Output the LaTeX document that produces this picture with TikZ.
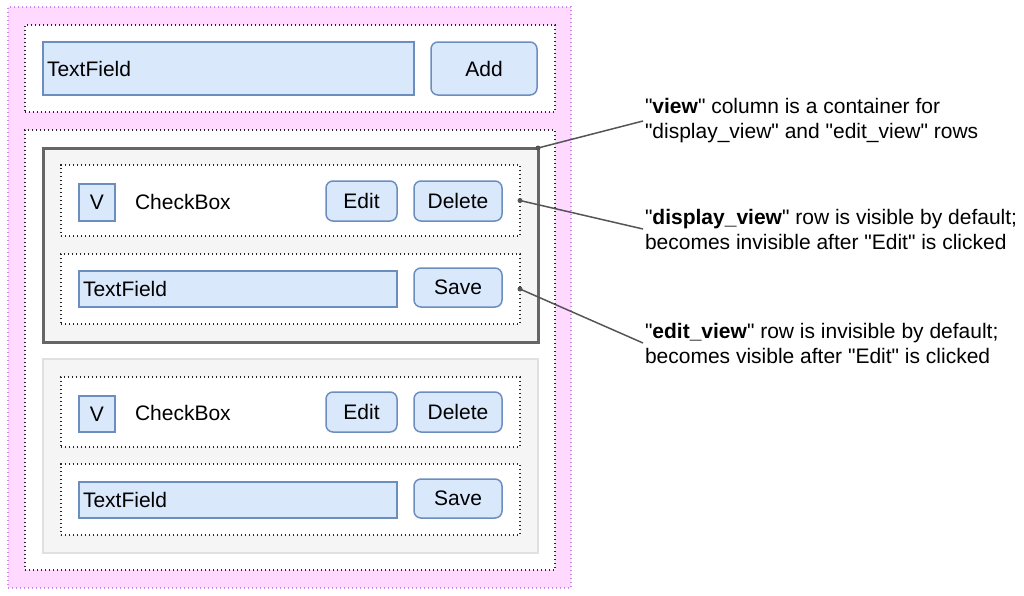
\documentclass[tikz,border=0pt]{standalone}
\usepackage{fontspec}
\setmainfont{Liberation Sans}[Ligatures=TeXOff]
\definecolor{pinkfill}{HTML}{FFD9FF}
\definecolor{pinkline}{HTML}{CC88EE}
\definecolor{bluefill}{HTML}{DAE8FC}
\definecolor{blueline}{HTML}{6C8EBF}
\definecolor{greyfill}{HTML}{F5F5F5}
\definecolor{greyline}{HTML}{666666}
\definecolor{lightgrey}{HTML}{E0E0E0}
\definecolor{connc}{HTML}{555555}
\newcommand\uibox[7]{\node[#2, anchor=north west, minimum width={(#5-#3)*1pt}, minimum height={(#6-#4)*1pt}] (#1) at (#3,#4) {#7};}
\tikzset{
  base/.style={inner sep=0pt, outer sep=0pt, font=\fontsize{21}{25}\selectfont},
  outerpink/.style={base, fill=pinkfill, draw=pinkline, line width=1.1pt, dash pattern=on 1.1pt off 2.9pt},
  dotbox/.style={base, fill=white, draw=black!85, line width=1.1pt, dash pattern=on 1.1pt off 2.9pt},
  viewbox/.style={base, fill=greyfill, draw=greyline, line width=3pt},
  viewbox2/.style={base, fill=greyfill, draw=lightgrey, line width=1.5pt},
  field/.style={base, fill=bluefill, draw=blueline, line width=1.5pt, text width={#1}, align=left, inner xsep=4pt},
  btn/.style={base, fill=bluefill, draw=blueline, line width=1.5pt, rounded corners=7pt},
  chk/.style={base, fill=bluefill, draw=blueline, line width=1.5pt},
  plain/.style={base},
  ann/.style={base, anchor=west, align=left, inner xsep=2pt, font=\fontsize{21}{25}\selectfont},
  conn/.style={draw=connc, line width=1.5pt},
  dotc/.style={fill=connc}
}
\begin{document}
\begin{tikzpicture}[x=1pt,y=-1pt]
\useasboundingbox (0,0) rectangle (1024,595);
% outer
\uibox{outer}{outerpink}{8}{7}{571}{588}{}
% top row
\uibox{toprow}{dotbox}{25}{25}{555}{112}{}
\uibox{tf0}{field={363pt}}{43}{42}{414}{95}{TextField}
\uibox{add}{btn}{431}{42}{537}{95}{Add}
% list container
\uibox{list}{dotbox}{25}{130}{555}{570}{}
% first view
\uibox{vw}{viewbox}{43}{148}{538}{342}{}
\uibox{disp1}{dotbox}{61}{165}{520}{236}{}
\uibox{chk1}{chk}{79}{184}{115}{221}{V}
\node[plain, anchor=west] (cb1) at (135,202) {CheckBox};
\uibox{edit1}{btn}{326}{181}{397}{221}{Edit}
\uibox{del1}{btn}{414}{181}{502}{221}{Delete}
\uibox{edrow1}{dotbox}{61}{254}{520}{324}{}
\uibox{tf1}{field={310pt}}{79}{271}{397}{307}{TextField}
\uibox{save1}{btn}{414}{268}{502}{307}{Save}
% second view
\uibox{vw2}{viewbox2}{43}{359}{538}{553}{}
\uibox{disp2}{dotbox}{61}{377}{520}{447}{}
\uibox{chk2}{chk}{79}{396}{115}{432}{V}
\node[plain, anchor=west] (cb2) at (135,413) {CheckBox};
\uibox{edit2}{btn}{326}{392}{397}{432}{Edit}
\uibox{del2}{btn}{414}{392}{502}{432}{Delete}
\uibox{edrow2}{dotbox}{61}{464}{520}{535}{}
\uibox{tf2}{field={310pt}}{79}{482}{397}{518}{TextField}
\uibox{save2}{btn}{414}{479}{502}{518}{Save}
% annotations
\node[ann] (a1) at (643,121) {"\textbf{view}" column is a container for\\"display\_view" and "edit\_view" rows};
\node[ann] (a2) at (643,229) {"\textbf{display\_view}" row is visible by default;\\becomes invisible after "Edit" is clicked};
\node[ann] (a3) at (643,343) {"\textbf{edit\_view}" row is invisible by default;\\becomes visible after "Edit" is clicked};
% connectors
\coordinate (p1) at (vw.north east);
\coordinate (p2) at (disp1.east);
\coordinate (p3) at (edrow1.east);
\draw[conn] (p1) -- (a1.west);
\draw[conn] (p2) -- (a2.west);
\draw[conn] (p3) -- (a3.west);
\fill[dotc] (p1) circle (2.5);
\fill[dotc] (p2) circle (2.5);
\fill[dotc] (p3) circle (2.5);
\end{tikzpicture}
\end{document}
